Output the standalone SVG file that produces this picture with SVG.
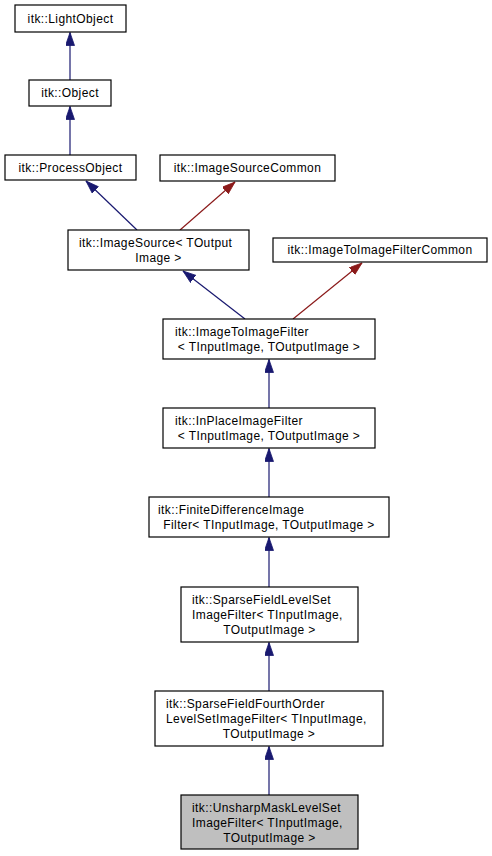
<svg xmlns="http://www.w3.org/2000/svg" width="492" height="856" viewBox="0 0 492 856">
<style>
.n rect{fill:#fff;stroke:#000;stroke-width:1.2}
.n.cur rect{fill:#bfbfbf}
.n text{font-family:"Liberation Sans",Arial,Helvetica,sans-serif;font-size:12px;letter-spacing:0.4px;fill:#000}
.c{text-anchor:middle}
.e line{stroke-width:1.2;fill:none}
.b{stroke:#191970}
.r{stroke:#8b1a1a}
</style>
<defs>
<marker id="ab" markerUnits="userSpaceOnUse" markerWidth="14" markerHeight="10" refX="13" refY="4.5" orient="auto" viewBox="0 0 14 10">
<path d="M0,0 L13,4.5 L0,9 Z" fill="#191970" stroke="#191970" stroke-width="0.8"/>
</marker>
<marker id="ar" markerUnits="userSpaceOnUse" markerWidth="14" markerHeight="10" refX="13" refY="4.5" orient="auto" viewBox="0 0 14 10">
<path d="M0,0 L13,4.5 L0,9 Z" fill="#8b1a1a" stroke="#8b1a1a" stroke-width="0.8"/>
</marker>
</defs>
<rect width="492" height="856" fill="#fff"/>
<g id="connectors" class="e">
<line class="b" x1="70" y1="80" x2="70" y2="32.5" marker-end="url(#ab)"/>
<line class="b" x1="70" y1="155" x2="70" y2="106.5" marker-end="url(#ab)"/>
<line class="b" x1="137" y1="230" x2="86" y2="181" marker-end="url(#ab)"/>
<line class="r" x1="180" y1="230" x2="235" y2="182" marker-end="url(#ar)"/>
<line class="b" x1="245" y1="319" x2="183" y2="271" marker-end="url(#ab)"/>
<line class="r" x1="293" y1="319" x2="362" y2="263" marker-end="url(#ar)"/>
<line class="b" x1="269" y1="408" x2="269" y2="359.5" marker-end="url(#ab)"/>
<line class="b" x1="269" y1="497" x2="269" y2="448.5" marker-end="url(#ab)"/>
<line class="b" x1="269" y1="587" x2="269" y2="537.5" marker-end="url(#ab)"/>
<line class="b" x1="269" y1="691" x2="269" y2="642.5" marker-end="url(#ab)"/>
<line class="b" x1="269" y1="795" x2="269" y2="746.5" marker-end="url(#ab)"/>
</g>
<g id="LightObject" class="n"><rect x="15" y="5" width="111" height="27"/><text class="c" x="70.5" y="22.5">itk::LightObject</text></g>
<g id="Object" class="n"><rect x="29" y="80" width="82" height="26"/><text class="c" x="70" y="97">itk::Object</text></g>
<g id="ProcessObject" class="n"><rect x="5" y="155" width="131" height="25"/><text class="c" x="70.5" y="171.5">itk::ProcessObject</text></g>
<g id="ImageSourceCommon" class="n"><rect x="160" y="155" width="175" height="26"/><text class="c" x="247.5" y="172">itk::ImageSourceCommon</text></g>
<g id="ImageSource" class="n"><rect x="68" y="230" width="181" height="40"/><text x="79" y="246.5">itk::ImageSource&lt; TOutput</text><text class="c" x="158.5" y="261.5">Image &gt;</text></g>
<g id="ImageToImageFilterCommon" class="n"><rect x="273" y="238" width="214" height="24"/><text class="c" x="380" y="254">itk::ImageToImageFilterCommon</text></g>
<g id="ImageToImageFilter" class="n"><rect x="163" y="319" width="212" height="40"/><text x="175" y="335.5">itk::ImageToImageFilter</text><text class="c" x="269" y="350.5">&lt; TInputImage, TOutputImage &gt;</text></g>
<g id="InPlaceImageFilter" class="n"><rect x="163" y="408" width="212" height="40"/><text x="175" y="424.5">itk::InPlaceImageFilter</text><text class="c" x="269" y="439.5">&lt; TInputImage, TOutputImage &gt;</text></g>
<g id="FiniteDifferenceImageFilter" class="n"><rect x="149" y="497" width="240" height="40"/><text x="158" y="513.5">itk::FiniteDifferenceImage</text><text class="c" x="269" y="528.5">Filter&lt; TInputImage, TOutputImage &gt;</text></g>
<g id="SparseFieldLevelSetImageFilter" class="n"><rect x="181" y="587" width="177" height="55"/><text x="192" y="603.5">itk::SparseFieldLevelSet</text><text x="192" y="618.5">ImageFilter&lt; TInputImage,</text><text class="c" x="269.5" y="633.5">TOutputImage &gt;</text></g>
<g id="SparseFieldFourthOrderLevelSetImageFilter" class="n"><rect x="155" y="691" width="228" height="55"/><text x="166" y="707.5">itk::SparseFieldFourthOrder</text><text x="166" y="722.5">LevelSetImageFilter&lt; TInputImage,</text><text class="c" x="269" y="737.5">TOutputImage &gt;</text></g>
<g id="UnsharpMaskLevelSetImageFilter" class="n cur"><rect x="181" y="795" width="177" height="54"/><text x="192" y="811.5">itk::UnsharpMaskLevelSet</text><text x="192" y="826.5">ImageFilter&lt; TInputImage,</text><text class="c" x="269.5" y="841.5">TOutputImage &gt;</text></g>
</svg>
